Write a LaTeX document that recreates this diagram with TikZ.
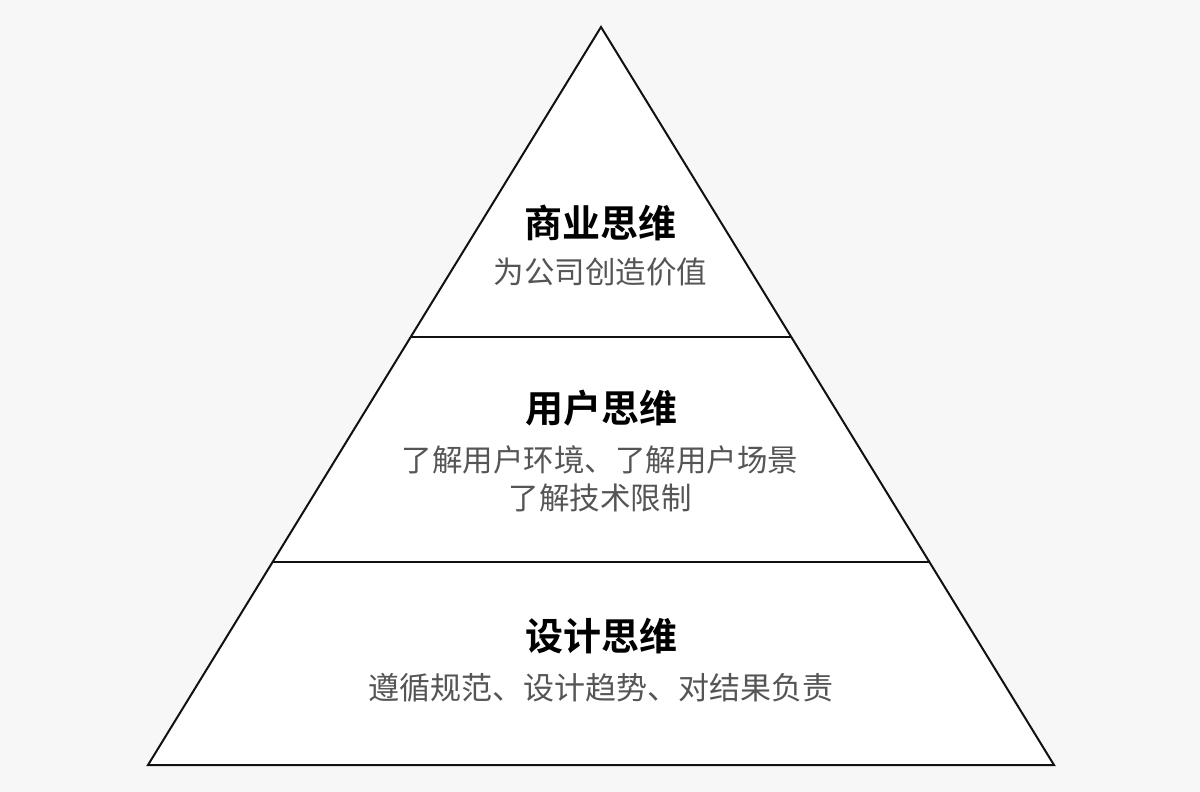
\documentclass[tikz,border=0pt]{standalone}
\usepackage{fontspec}
\setmainfont{Noto Sans CJK SC}
\newfontfamily\cjkb{Noto Sans CJK SC Bold}
\usetikzlibrary{calc}
\definecolor{bgc}{HTML}{F7F7F7}
\definecolor{linec}{HTML}{111111}
\definecolor{subc}{HTML}{555555}
\tikzset{
  layertitle/.style={anchor=base, inner sep=0pt, text=black, font=\cjkb\fontsize{38}{40}\selectfont},
  layersub/.style={anchor=base, inner sep=0pt, text=subc, font=\fontsize{30.5}{34}\selectfont},
  layersubbig/.style={anchor=base, inner sep=0pt, text=subc, font=\fontsize{31}{34}\selectfont},
  edge/.style={draw=linec, line width=2pt, line join=miter}
}
\begin{document}
\begin{tikzpicture}[x=1pt,y=-1pt]
\fill[bgc] (0,0) rectangle (1200,792);
\useasboundingbox (0,0) rectangle (1200,792);
\coordinate (apex) at (601,27);
\coordinate (bl) at (148,765);
\coordinate (br) at (1054,765);
\coordinate (l1) at ($(apex)!0.42!(bl)$);
\coordinate (r1) at ($(apex)!0.42!(br)$);
\coordinate (l2) at ($(apex)!0.725!(bl)$);
\coordinate (r2) at ($(apex)!0.725!(br)$);
\fill[white] (apex) -- (bl) -- (br) -- cycle;
\draw[edge] (l1) -- (r1);
\draw[edge] (l2) -- (r2);
\draw[edge] (apex) -- (bl) -- (br) -- cycle;
\node[layertitle] (t1) at (600,237.5) {商业思维};
\node[layersub] (s1) at (600.5,283.5) {为公司创造价值};
\node[layertitle] (t2) at (601,422.5) {用户思维};
\node[layersub] (s2a) at (600,471.5) {了解用户环境、了解用户场景};
\node[layersub] (s2b) at (600,509.5) {了解技术限制};
\node[layertitle] (t3) at (601,650.5) {设计思维};
\node[layersubbig] (s3) at (600.5,699.5) {遵循规范、设计趋势、对结果负责};
\end{tikzpicture}
\end{document}
